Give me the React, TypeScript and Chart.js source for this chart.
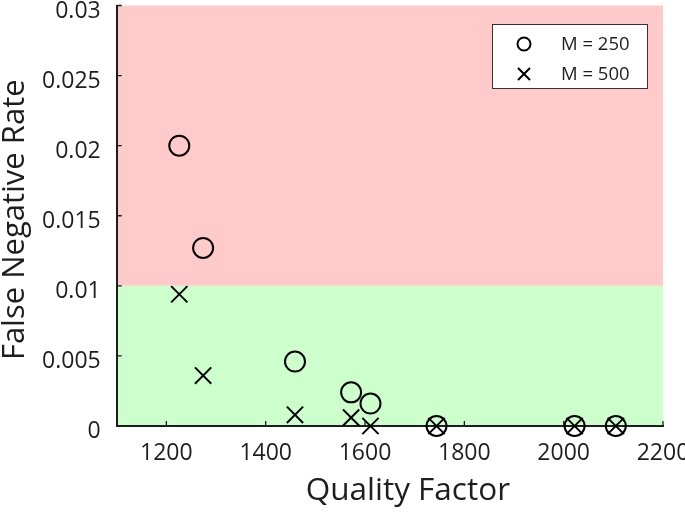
import React, { useEffect, useRef } from 'react';
import { Chart, registerables } from 'chart.js';

Chart.register(...registerables);

const qualityFactor = [1226, 1274, 1459, 1572, 1611, 1744, 2022, 2105];
const fnrM250 = [0.02, 0.0127, 0.0046, 0.0024, 0.0016, 0, 0, 0];
const fnrM500 = [0.0094, 0.0036, 0.0008, 0.0006, 0, 0, 0, 0];
const seriesLabels = ['M = 250', 'M = 500'];
const xTickValues = [1200, 1400, 1600, 1800, 2000, 2200];
const yTickValues = [0, 0.005, 0.01, 0.015, 0.02, 0.025, 0.03];
const xRange = [1100, 2200];
const yRange = [0, 0.03];
const threshold = 0.01;
const xTitle = 'Quality Factor';
const yTitle = 'False Negative Rate';

const FONT = "'Open Sans', 'DejaVu Sans', sans-serif";
const INK = '#1e1e1e';

const backgroundPlugin = {
  id: 'zones',
  beforeDraw(chart: any) {
    const { ctx, chartArea, scales } = chart;
    const y = scales.y;
    const top = y.getPixelForValue(yRange[1]);
    const mid = y.getPixelForValue(threshold);
    const bottom = y.getPixelForValue(yRange[0]);
    ctx.save();
    ctx.fillStyle = '#ffcaca';
    ctx.fillRect(chartArea.left, top, chartArea.right - chartArea.left, mid - top);
    ctx.fillStyle = '#ccffcc';
    ctx.fillRect(chartArea.left, mid, chartArea.right - chartArea.left, bottom - mid);
    ctx.restore();
  },
};

const innerTicksPlugin = {
  id: 'innerTicks',
  afterDatasetsDraw(chart: any) {
    const { ctx, chartArea, scales } = chart;
    ctx.save();
    ctx.strokeStyle = INK;
    ctx.lineWidth = 1.3;
    ctx.beginPath();
    scales.x.ticks.forEach((t: any) => {
      const px = scales.x.getPixelForValue(t.value);
      ctx.moveTo(px, chartArea.bottom);
      ctx.lineTo(px, chartArea.bottom - 5);
    });
    scales.y.ticks.forEach((t: any) => {
      const py = scales.y.getPixelForValue(t.value);
      ctx.moveTo(chartArea.left, py);
      ctx.lineTo(chartArea.left + 5, py);
    });
    ctx.stroke();
    ctx.restore();
  },
};

const axisTitlePlugin = {
  id: 'axisTitles',
  afterDraw(chart: any) {
    const { ctx, chartArea } = chart;
    ctx.save();
    ctx.fillStyle = INK;
    ctx.textAlign = 'center';
    ctx.textBaseline = 'alphabetic';
    ctx.font = `31.5px ${FONT}`;
    const cx = (chartArea.left + chartArea.right) / 2 + 18;
    ctx.fillText(xTitle, cx, chart.height - 12);
    ctx.translate(23.5, (chartArea.top + chartArea.bottom) / 2 + 4);
    ctx.rotate(-Math.PI / 2);
    ctx.font = `31px ${FONT}`;
    ctx.fillText(yTitle, 0, 0);
    ctx.restore();
  },
};

const legendPlugin = {
  id: 'boxLegend',
  afterDraw(chart: any) {
    const { ctx } = chart;
    const bx = 492, by = 24, bw = 155, bh = 64;
    ctx.save();
    ctx.fillStyle = '#ffffff';
    ctx.fillRect(bx, by, bw, bh);
    ctx.strokeStyle = '#333333';
    ctx.lineWidth = 1;
    ctx.strokeRect(bx + 0.5, by + 0.5, bw, bh);
    const rows = [by + 20, by + 50];
    chart.data.datasets.forEach((ds: any, i: number) => {
      const cx = bx + 32;
      const cy = rows[i];
      ctx.strokeStyle = '#000';
      ctx.lineWidth = 2;
      ctx.beginPath();
      if (ds.pointStyle === 'circle') {
        ctx.arc(cx, cy, 6.5, 0, Math.PI * 2);
      } else {
        const h = 6;
        ctx.moveTo(cx - h, cy - h);
        ctx.lineTo(cx + h, cy + h);
        ctx.moveTo(cx + h, cy - h);
        ctx.lineTo(cx - h, cy + h);
      }
      ctx.stroke();
      ctx.fillStyle = INK;
      ctx.font = `18.5px ${FONT}`;
      ctx.textBaseline = 'middle';
      ctx.textAlign = 'left';
      ctx.fillText(ds.label, bx + 69, cy + 1);
    });
    ctx.restore();
  },
};

export default function App() {
  const canvasRef = useRef<HTMLCanvasElement | null>(null);

  useEffect(() => {
    const canvas = canvasRef.current;
    if (!canvas) return;
    const chart = new Chart(canvas, {
      type: 'scatter',
      data: {
        datasets: [
          {
            label: seriesLabels[0],
            data: qualityFactor.map((q, i) => ({ x: q, y: fnrM250[i] })),
            pointStyle: 'circle',
            pointRadius: 10,
            pointBorderWidth: 2,
            borderColor: '#000',
            backgroundColor: 'rgba(0,0,0,0)',
            clip: false,
          } as any,
          {
            label: seriesLabels[1],
            data: qualityFactor.map((q, i) => ({ x: q, y: fnrM500[i] })),
            pointStyle: 'crossRot',
            pointRadius: 11.5,
            pointBorderWidth: 2,
            borderColor: '#000',
            backgroundColor: 'rgba(0,0,0,0)',
            clip: false,
          } as any,
        ],
      },
      options: {
        responsive: false,
        animation: false,
        events: [],
        layout: { autoPadding: false, padding: { left: 0, right: 22, top: 5.5, bottom: 0 } },
        plugins: {
          legend: { display: false },
          tooltip: { enabled: false },
        },
        scales: {
          x: {
            type: 'linear',
            min: xRange[0],
            max: xRange[1],
            afterBuildTicks: (scale: any) => {
              scale.ticks = xTickValues.map((v) => ({ value: v }));
            },
            afterFit: (scale: any) => {
              scale.height = 86;
              scale.paddingLeft = 0;
              scale.paddingRight = 0;
            },
            grid: { display: false },
            border: { display: true, color: INK, width: 2 },
            ticks: {
              padding: 6,
              color: INK,
              maxRotation: 0,
              autoSkip: false,
              font: { family: FONT, size: 23 },
              callback: (v: any) => String(v),
            },
            title: { display: false, text: xTitle },
          },
          y: {
            type: 'linear',
            min: yRange[0],
            max: yRange[1],
            afterBuildTicks: (scale: any) => {
              scale.ticks = yTickValues.map((v) => ({ value: v }));
            },
            afterFit: (scale: any) => {
              scale.width = 116.7;
              scale.paddingTop = 0;
              scale.paddingBottom = 0;
            },
            grid: { display: false },
            border: { display: true, color: INK, width: 2 },
            ticks: {
              padding: 8,
              color: INK,
              autoSkip: false,
              labelOffset: 5.5,
              font: { family: FONT, size: 23 },
              callback: (v: any) => String(Number(Number(v).toFixed(4))),
            },
            title: { display: false, text: yTitle },
          },
        },
      },
      plugins: [backgroundPlugin, innerTicksPlugin, axisTitlePlugin, legendPlugin],
    });
    return () => chart.destroy();
  }, []);

  return (
    <div style={{ position: 'absolute', left: 0, top: 0, width: 685, height: 512, background: '#fff' }}>
      <canvas ref={canvasRef} width={685} height={512} style={{ display: 'block' }} />
    </div>
  );
}
